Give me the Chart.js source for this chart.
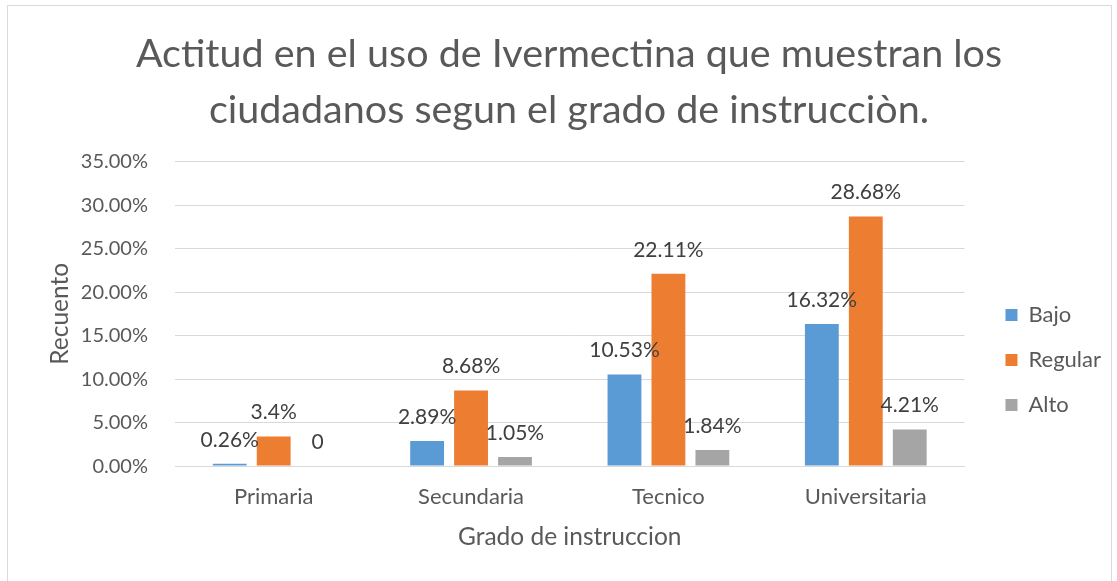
<!DOCTYPE html>
<html>
<head>
<meta charset="utf-8">
<script src="https://cdn.jsdelivr.net/npm/chart.js@4"></script>
<style>
  body { margin: 0; background: #fff; }
  #frame { position: absolute; left: 7px; top: 5px; width: 1103px; height: 600px; border: 1px solid #d9d9d9; }
  #wrap { position: absolute; left: 0; top: 0; width: 1117px; height: 581px; }
</style>
</head>
<body>
<div id="frame"></div>
<div id="wrap"><canvas id="chart"></canvas></div>
<script>
const categories = ['Primaria', 'Secundaria', 'Tecnico', 'Universitaria'];
const bajo = [0.26, 2.89, 10.53, 16.32];
const regular = [3.4, 8.68, 22.11, 28.68];
const alto = [0, 1.05, 1.84, 4.21];
const bajoLabels = ['0.26%', '2.89%', '10.53%', '16.32%'];
const regularLabels = ['3.4%', '8.68%', '22.11%', '28.68%'];
const altoLabels = ['0', '1.05%', '1.84%', '4.21%'];

const FONT = 'Lato, "Open Sans", sans-serif';
const TEXT = '#595959';

// etiquetas encima de cada barra
const barLabels = {
    id: 'barLabels',
    afterDatasetsDraw(chart) {
        const ctx = chart.ctx;
        ctx.save();
        ctx.font = '21px ' + FONT;
        ctx.fillStyle = '#404040';
        ctx.textAlign = 'center';
        ctx.textBaseline = 'middle';
        chart.data.datasets.forEach((ds, i) => {
            chart.getDatasetMeta(i).data.forEach((bar, j) => {
                ctx.fillText(ds.valueLabels[j], bar.x, bar.y - 24);
            });
        });
        ctx.restore();
    }
};

// mover la leyenda un poco (como en Excel)
const legendShift = {
    id: 'legendShift',
    afterLayout(chart) {
        const lg = chart.legend;
        lg.left += 18;
        lg.right += 18;
        lg.top += 70;
        lg.bottom += 70;
    }
};

new Chart(document.getElementById('chart'), {
    type: 'bar',
    data: {
        labels: categories,
        datasets: [
            { label: 'Bajo', data: bajo, valueLabels: bajoLabels, backgroundColor: '#5B9BD5' },
            { label: 'Regular', data: regular, valueLabels: regularLabels, backgroundColor: '#ED7D31' },
            { label: 'Alto', data: alto, valueLabels: altoLabels, backgroundColor: '#A5A5A5' }
        ]
    },
    options: {
        responsive: true,
        maintainAspectRatio: false,
        animation: false,
        categoryPercentage: 0.668,
        barPercentage: 0.77,
        layout: { padding: { left: 45, right: 24, top: 27, bottom: 28 } },
        plugins: {
            title: {
                display: true,
                text: ['Actitud en el uso de Ivermectina que muestran los', 'ciudadanos segun el grado de instrucciòn.'],
                color: TEXT,
                font: { family: FONT, size: 39.5, weight: 'normal', lineHeight: 1.4 },
                padding: { top: 0, bottom: 24 }
            },
            legend: {
                position: 'right',
                labels: {
                    color: TEXT,
                    font: { family: FONT, size: 22 },
                    boxWidth: 12,
                    boxHeight: 12,
                    padding: 23
                }
            },
            tooltip: { enabled: false }
        },
        scales: {
            x: {
                grid: { display: false, drawTicks: false },
                border: { color: '#d9d9d9', width: 1 },
                ticks: { color: TEXT, font: { family: FONT, size: 22 }, padding: 18 },
                title: { display: true, text: 'Grado de instruccion', color: TEXT,
                    font: { family: FONT, size: 24.5, lineHeight: 1 }, padding: { top: -4, bottom: 4 } }
            },
            y: {
                min: 0,
                max: 35,
                grid: { color: '#d9d9d9', drawTicks: false },
                border: { display: false },
                ticks: { stepSize: 5, color: TEXT, font: { family: FONT, size: 20 }, padding: 27,
                    callback: v => v.toFixed(2) + '%' },
                title: { display: true, text: 'Recuento', color: TEXT, font: { family: FONT, size: 24.5 }, padding: 0 },
                afterFit(scale) { scale.width = 130; }
            }
        }
    },
    plugins: [barLabels, legendShift]
});
</script>
</body>
</html>
